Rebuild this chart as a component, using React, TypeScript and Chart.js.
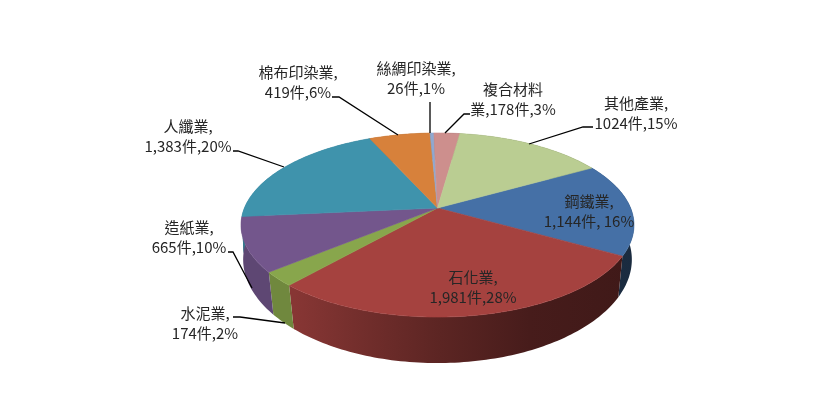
import React, { useEffect, useRef } from "react";
import { Chart, registerables } from "chart.js";

Chart.register(...registerables);

const categories = ["鋼鐵業", "石化業", "水泥業", "造紙業", "人纖業", "棉布印染業", "絲綢印染業", "複合材料業", "其他產業"];
const cases = [1144, 1981, 174, 665, 1383, 419, 26, 178, 1024];
const sliceColors = ["#4570A6", "#A5423F", "#88A64C", "#73568C", "#3F93AC", "#D7813B", "#8FA8D0", "#CD8F8D", "#BACD92"];
const labelLines = [
  ["鋼鐵業,", "1,144件, 16%"],
  ["石化業,", "1,981件,28%"],
  ["水泥業,", "174件,2%"],
  ["造紙業,", "665件,10%"],
  ["人纖業,", "1,383件,20%"],
  ["棉布印染業,", "419件,6%"],
  ["絲綢印染業,", "26件,1%"],
  ["複合材料", "業,178件,3%"],
  ["其他產業,", "1024件,15%"],
];

// layout only: label centres and leader paths, in canvas pixels
const labelCentres: [number, number][] = [
  [589, 201], [473, 277], [205, 313], [189, 227], [188, 126], [298, 72], [416, 68], [513, 89], [636, 103],
];
const leaders: ([number, number][] | null)[] = [
  null,
  null,
  [[233, 317], [240, 317], [285, 323]],
  [[228, 252], [233, 252], [252, 288]],
  [[233, 151], [238, 151], [284, 167]],
  [[332, 97], [339, 97], [398, 135]],
  [[430, 102], [430, 133]],
  [[470, 114], [464, 114], [445, 133]],
  [[593, 127], [583, 127], [529, 144]],
];

const CX = 437.5, CY = 208, RX = 193.1, RY = 88.9, K = 0.185;
const LINE_GAP = 20;

function top(a: number): [number, number] {
  const u = Math.cos(a), v = Math.sin(a), w = 1 - K * v;
  return [CX + (RX * u) / w, CY + (RY * v) / w];
}
function bottom(a: number): [number, number] {
  const [x, y] = top(a);
  const v = Math.sin(a);
  return [CX + (x - CX) * (0.995 - 0.035 * Math.max(v, 0)), y + 36.2 + 9.8 * v];
}
function hexRgb(h: string) {
  return [1, 3, 5].map((i) => parseInt(h.slice(i, i + 2), 16));
}
function shade(h: string, f: number) {
  const [r, g, b] = hexRgb(h);
  return `rgb(${Math.round(r * f)},${Math.round(g * f)},${Math.round(b * f)})`;
}
const SHADE_STOPS: [number, number][] = [[241, 0.82], [295, 0.82], [370, 0.68], [440, 0.56], [530, 0.43], [635, 0.38]];

const pie3d = {
  id: "pie3d",
  beforeDatasetsDraw(chart: any) {
    const ctx: CanvasRenderingContext2D = chart.ctx;
    const arcs = chart.getDatasetMeta(0).data;
    ctx.save();
    // side walls
    arcs.forEach((arc: any) => {
      const { startAngle: s, endAngle: e } = arc;
      const color = arc.options.backgroundColor as string;
      const steps = Math.max(4, Math.ceil((e - s) / 0.02));
      const g = ctx.createLinearGradient(241, 0, 635, 0);
      SHADE_STOPS.forEach(([x, f]) => g.addColorStop((x - 241) / 394, shade(color, f)));
      ctx.beginPath();
      for (let i = 0; i <= steps; i++) {
        const p = top(s + ((e - s) * i) / steps);
        i ? ctx.lineTo(p[0], p[1]) : ctx.moveTo(p[0], p[1]);
      }
      for (let i = steps; i >= 0; i--) {
        const p = bottom(s + ((e - s) * i) / steps);
        ctx.lineTo(p[0], p[1]);
      }
      ctx.closePath();
      ctx.fillStyle = g;
      ctx.fill();
    });
    // top faces
    arcs.forEach((arc: any) => {
      const { startAngle: s, endAngle: e } = arc;
      const color = arc.options.backgroundColor as string;
      const steps = Math.max(4, Math.ceil((e - s) / 0.02));
      ctx.beginPath();
      ctx.moveTo(CX, CY);
      for (let i = 0; i <= steps; i++) {
        const p = top(s + ((e - s) * i) / steps);
        ctx.lineTo(p[0], p[1]);
      }
      ctx.closePath();
      ctx.fillStyle = color;
      ctx.strokeStyle = color;
      ctx.lineWidth = 0.6;
      ctx.fill();
      ctx.stroke();
    });
    ctx.restore();
    return false;
  },
  afterDraw(chart: any) {
    const ctx: CanvasRenderingContext2D = chart.ctx;
    ctx.save();
    ctx.strokeStyle = "#000000";
    ctx.lineWidth = 1.3;
    leaders.forEach((path) => {
      if (!path) return;
      ctx.beginPath();
      path.forEach(([x, y], i) => (i ? ctx.lineTo(x, y) : ctx.moveTo(x, y)));
      ctx.stroke();
    });
    ctx.font = '15px "Noto Sans CJK TC", "Noto Sans", sans-serif';
    ctx.textAlign = "center";
    ctx.textBaseline = "middle";
    ctx.fillStyle = "#262626";
    labelLines.forEach((lines, i) => {
      const [x, y] = labelCentres[i];
      lines.forEach((t, j) => ctx.fillText(t, x, y + j * LINE_GAP));
    });
    ctx.restore();
  },
};

export default function App() {
  const ref = useRef<HTMLCanvasElement>(null);
  useEffect(() => {
    const chart = new Chart(ref.current!, {
      type: "pie",
      data: {
        labels: categories,
        datasets: [{ data: cases, backgroundColor: sliceColors, borderWidth: 0 }],
      },
      options: {
        animation: false,
        responsive: false,
        rotation: 60.6,
        plugins: { legend: { display: false }, tooltip: { enabled: false }, title: { display: false } },
      },
      plugins: [pie3d],
    } as any);
    return () => chart.destroy();
  }, []);
  return (
    <div style={{ position: "absolute", left: 0, top: 0, width: 823, height: 409, background: "#fff" }}>
      <canvas ref={ref} width={823} height={409} style={{ display: "block" }} />
    </div>
  );
}
